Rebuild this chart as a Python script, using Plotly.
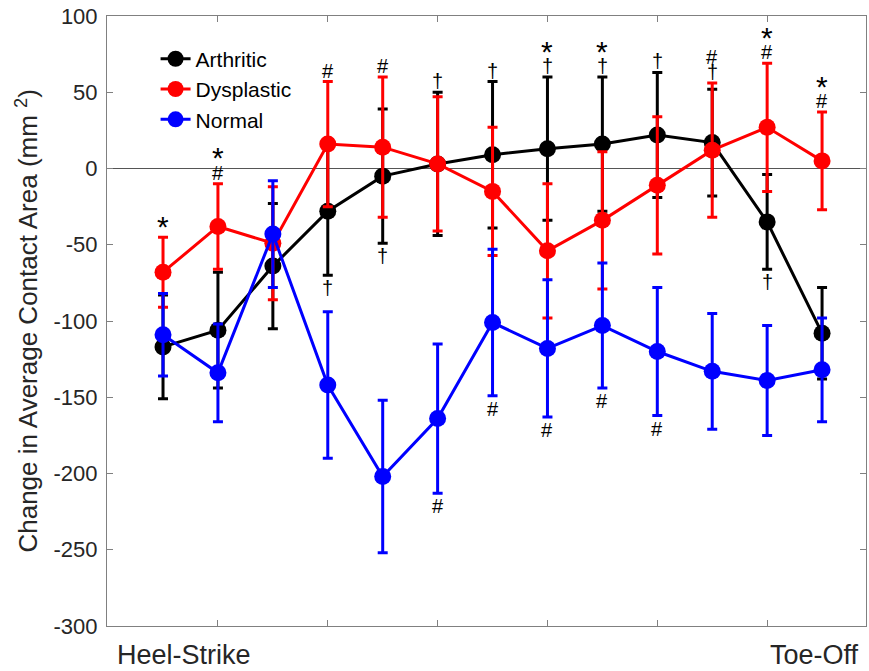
import plotly.graph_objects as go

# ---------------- data ----------------
x_idx = list(range(13))
arth_mean = [-117, -106, -64, -28, -5, 3, 9, 13, 16, 22, 17, -35, -108]
arth_err = [34, 38, 41, 42, 44, 47, 48, 47, 44, 41, 35, 31, 30]
dysp_mean = [-68, -38, -49, 16, 14, 3, -15, -54, -34, -11, 12, 27, 5]
dysp_err = [23, 28, 37, 41, 46, 44, 42, 44, 45, 45, 44, 42, 32]
norm_mean = [-109, -134, -43, -142, -202, -164, -101, -118, -103, -120, -133, -139, -132]
norm_err = [27, 32, 35, 48, 50, 49, 48, 45, 41, 42, 38, 36, 34]

series_names = ["Arthritic", "Dysplastic", "Normal"]
series_colors = ["#000000", "#ff0000", "#0000ff"]

# significance marks: (index, series, side, symbols bottom->top)
sig_marks = [
    (0, "Dysplastic", "above", ["*"]),
    (1, "Dysplastic", "above", ["#", "*"]),
    (3, "Dysplastic", "above", ["#"]),
    (3, "Arthritic", "below", ["†"]),
    (4, "Dysplastic", "above", ["#"]),
    (4, "Arthritic", "below", ["†"]),
    (5, "Arthritic", "above", ["†"]),
    (5, "Normal", "below", ["#"]),
    (6, "Arthritic", "above", ["†"]),
    (6, "Normal", "below", ["#"]),
    (7, "Arthritic", "above", ["†", "*"]),
    (7, "Normal", "below", ["#"]),
    (8, "Arthritic", "above", ["†", "*"]),
    (8, "Normal", "below", ["#"]),
    (9, "Arthritic", "above", ["†"]),
    (9, "Normal", "below", ["#"]),
    (10, "Dysplastic", "above", ["†", "#"]),
    (11, "Dysplastic", "above", ["#", "*"]),
    (11, "Arthritic", "below", ["†"]),
    (12, "Dysplastic", "above", ["#", "*"]),
]

y_ticks = [100, 50, 0, -50, -100, -150, -200, -250, -300]
x_ticks = [1, 3, 5, 7, 9, 11]
phase_labels = [("Heel-Strike", 0.38), ("Toe-Off", 11.87)]

means = {"Arthritic": arth_mean, "Dysplastic": dysp_mean, "Normal": norm_mean}
errs = {"Arthritic": arth_err, "Dysplastic": dysp_err, "Normal": norm_err}

FONT = "Arial, Liberation Sans, sans-serif"

fig = go.Figure()
for name, col in zip(series_names, series_colors):
    fig.add_trace(go.Scatter(
        x=x_idx, y=means[name], name=name, mode="lines+markers",
        line=dict(color=col, width=3),
        marker=dict(color=col, size=17),
        error_y=dict(type="data", array=errs[name], color=col,
                     thickness=3, width=5),
    ))

annotations = []
for idx, sname, side, syms in sig_marks:
    m = means[sname][idx]
    e = errs[sname][idx]
    if side == "above":
        base = m + e
        shift = 11
        for s in syms:
            size = 30 if s == "*" else 20
            annotations.append(dict(
                x=idx, y=base, xref="x", yref="y", text=s, showarrow=False,
                yanchor="middle", yshift=shift, borderpad=0,
                font=dict(family=FONT, size=size, color="#000000")))
            shift += 15
    else:
        base = m - e
        shift = -13
        for s in syms:
            annotations.append(dict(
                x=idx, y=base, xref="x", yref="y", text=s, showarrow=False,
                yanchor="middle", yshift=shift, borderpad=0,
                font=dict(family=FONT, size=20, color="#000000")))
            shift -= 15

for txt, xv in phase_labels:
    annotations.append(dict(
        x=xv, y=0, xref="x", yref="paper", text=txt, showarrow=False,
        yanchor="middle", yshift=-29, xanchor="center", borderpad=0,
        font=dict(family=FONT, size=27, color="#262626")))

annotations.append(dict(
    x=-0.106, y=0.5, xref="paper", yref="paper",
    text="Change in Average Contact Area (mm <sup>2</sup>)",
    textangle=-90, showarrow=False, xanchor="center", yanchor="middle",
    font=dict(family=FONT, size=26, color="#262626")))

fig.update_layout(
    width=869, height=671,
    margin=dict(l=107, r=3, t=16, b=45),
    paper_bgcolor="white", plot_bgcolor="white",
    showlegend=True,
    legend=dict(x=0.064, y=0.963, xanchor="left", yanchor="top",
                bgcolor="rgba(0,0,0,0)", borderwidth=0,
                font=dict(family=FONT, size=21, color="#000000"),
                tracegroupgap=0),
    annotations=annotations,
    font=dict(family=FONT),
)
fig.update_xaxes(
    range=[-1.02, 12.8], tickvals=x_ticks, showticklabels=False,
    ticks="inside", ticklen=6, tickcolor="#808080",
    showline=True, linecolor="#808080", linewidth=1, mirror="ticks",
    showgrid=False, zeroline=False,
)
fig.update_yaxes(
    range=[-300, 100], tickvals=y_ticks,
    ticktext=[str(v) for v in y_ticks],
    ticks="inside", ticklen=6, tickcolor="#808080",
    showline=True, linecolor="#808080", linewidth=1, mirror="ticks",
    showgrid=False, zeroline=True, zerolinecolor="#555555", zerolinewidth=1,
    tickfont=dict(family=FONT, size=22, color="#262626"),
    ticklabelstandoff=4,
)

fig.write_html("out.html")
